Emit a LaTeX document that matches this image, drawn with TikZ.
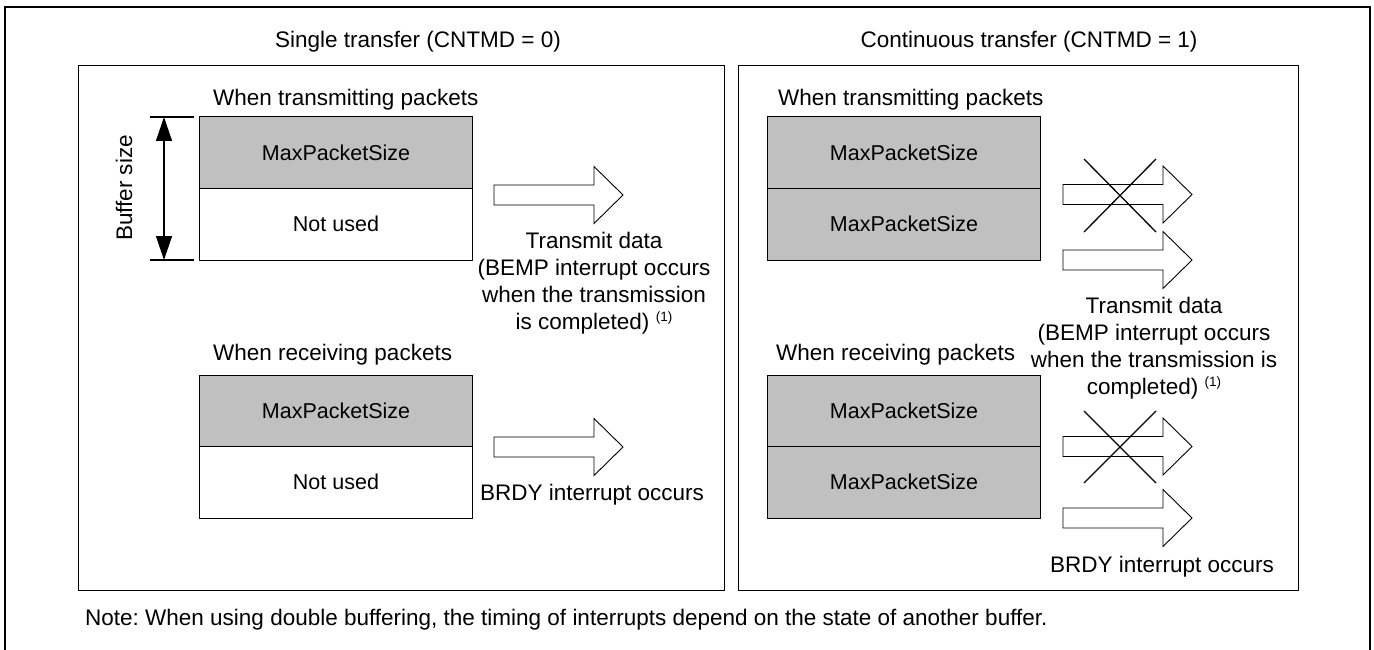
\documentclass[tikz,border=0pt]{standalone}
\usepackage{fontspec}
\setmainfont{Liberation Sans}
\usetikzlibrary{arrows.meta}
\definecolor{cellgray}{RGB}{192,192,192}
\frenchspacing
\newcommand{\labfont}{\fontsize{22.5}{27.2}\selectfont}
\newcommand{\cellfont}{\fontsize{21.5}{25}\selectfont}
\newcommand{\supone}{\raisebox{8pt}{\fontsize{13.5}{13.5}\selectfont(1)}}
\newcommand{\hollowarrow}[2]{\draw[arrowline] (#1,#2-10) -- ++(100,0) -- ++(0,-18.5) -- ++(29,28.5) -- ++(-29,28.5) -- ++(0,-18.5) -- ++(-100,0) -- cycle;}
\begin{document}
\begin{tikzpicture}[x=1pt,y=-1pt,
  panel/.style={draw=black, line width=1pt, inner sep=0, outer sep=0},
  pkt/.style={draw=black, line width=1pt, fill=cellgray, minimum width=273pt, minimum height=71.5pt, inner sep=0, outer sep=0, font=\cellfont},
  unused/.style={pkt, fill=white},
  lbl/.style={inner sep=0, font=\labfont},
  blk/.style={inner sep=0, font=\labfont, align=center, anchor=north},
  arrowline/.style={draw=black, line width=0.9pt, fill=white},
  crossline/.style={line width=1.3pt},
  dim/.style={line width=1.4pt}]
\useasboundingbox (0,0) rectangle (1374,650);
% outer frame
\draw[line width=2pt] (5,660) -- (5,7) -- (1370,7) -- (1370,660);
% titles
\node[lbl, anchor=base] (t1) at (418,48) {Single transfer (CNTMD = 0)};
\node[lbl, anchor=base] (t2) at (1029,48) {Continuous transfer (CNTMD = 1)};
% panels
\node[panel, minimum width=646pt, minimum height=524pt] (lp) at (401,328) {};
\node[panel, minimum width=560pt, minimum height=524pt] (rp) at (1018,328) {};
% labels
\node[lbl, anchor=base west] (ltx) at (213,106) {When transmitting packets};
\node[lbl, anchor=base west] (lrx) at (213,360.5) {When receiving packets};
\node[lbl, anchor=base west] (rtx) at (778,106) {When transmitting packets};
\node[lbl, anchor=base west] (rrx) at (776,360.5) {When receiving packets};
% cells left
\node[pkt] (la1) at (336,152.75) {MaxPacketSize};
\node[unused] (la2) at (336,224.25) {Not used};
\node[pkt] (lb1) at (336,410.75) {MaxPacketSize};
\node[unused] (lb2) at (336,482.25) {Not used};
% cells right
\node[pkt] (ra1) at (904,152.75) {MaxPacketSize};
\node[pkt] (ra2) at (904,224.25) {MaxPacketSize};
\node[pkt] (rb1) at (904,410.75) {MaxPacketSize};
\node[pkt] (rb2) at (904,482.25) {MaxPacketSize};
% dimension
\coordinate (dt) at (164,117);
\coordinate (db) at (164,260);
\draw[dim] (150,117) -- (194,117);
\draw[dim] (150,260) -- (194,260);
\draw[dim, {Triangle[length=24pt,width=16pt]}-{Triangle[length=24pt,width=16pt]}] (dt) -- (db);
\node[lbl, rotate=90] (bs) at (124,188) {Buffer size};
% hollow arrows
\hollowarrow{494}{195}
\hollowarrow{494}{447}
\hollowarrow{1063}{194.5}
\hollowarrow{1063}{260}
\hollowarrow{1063}{446.5}
\hollowarrow{1063}{518}
% crosses
\draw[crossline] (1084,159) -- (1156,232) (1156,159) -- (1084,232);
\draw[crossline] (1084,411) -- (1156,483) (1156,411) -- (1084,483);
% text blocks
\node[blk] (ltd) at (594,231.7) {Transmit data\\(BEMP interrupt occurs\\when the transmission\\is completed) \supone};
\node[blk] (rtd) at (1154,296.7) {Transmit data\\(BEMP interrupt occurs\\when the transmission is\\completed) \supone};
\node[lbl, anchor=base] (lbr) at (592,500.5) {BRDY interrupt occurs};
\node[lbl, anchor=base] (rbr) at (1162,572.5) {BRDY interrupt occurs};
% note
\node[lbl, anchor=base west] (note) at (85,625.5) {Note: When using double buffering, the timing of interrupts depend on the state of another buffer.};
\end{tikzpicture}
\end{document}
